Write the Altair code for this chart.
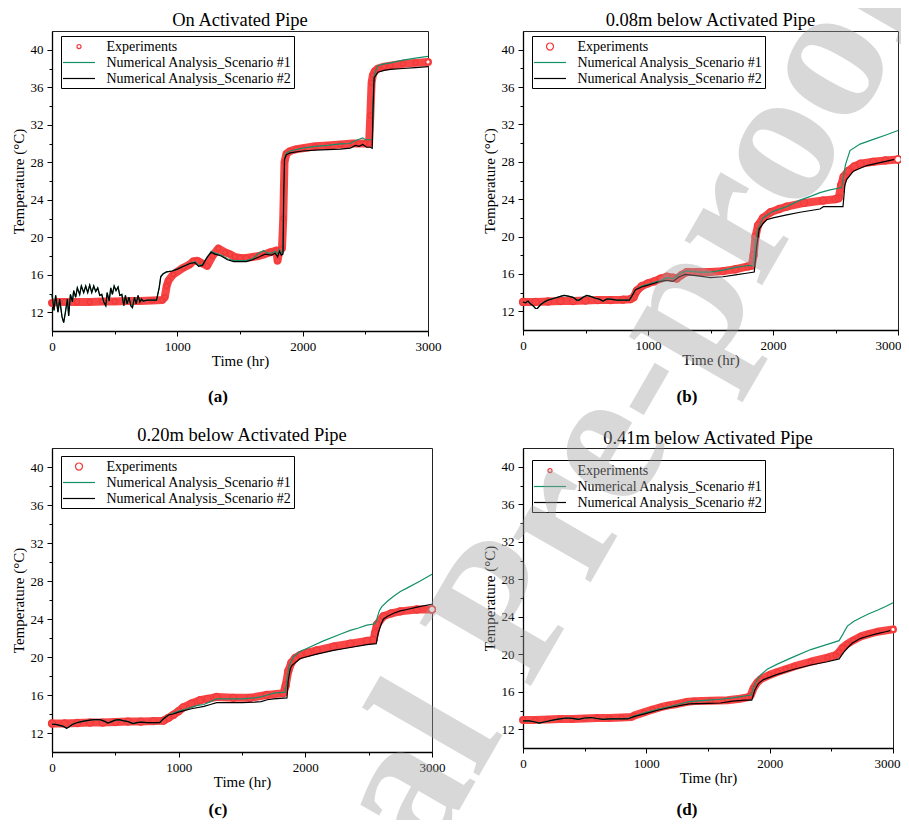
import altair as alt
import pandas as pd

FONT = "Liberation Serif"
SERIES = ["Experiments", "Numerical Analysis_Scenario #1", "Numerical Analysis_Scenario #2"]
COLORS = ["#f03a3a", "#12906a", "#000000"]
BAND_COLOR = "#f84646"
X_TICKS = [0, 500, 1000, 1500, 2000, 2500, 3000]
Y_TICKS = [12, 14, 16, 18, 20, 22, 24, 26, 28, 30, 32, 34, 36, 38, 40]
WATERMARK = "Journal Pre-proof"

# ---------------- panel (a): On Activated Pipe ----------------
A_EXP_T = [0, 50, 100, 200, 300, 400, 500, 600, 700, 800, 880, 900, 915, 930, 968, 1048, 1100, 1128, 1160, 1200,
           1238, 1280, 1327, 1380, 1420, 1460, 1500, 1550, 1600, 1650, 1700, 1740, 1770, 1790, 1800, 1810, 1825, 1835, 1845, 1855,
           1870, 1900, 1950, 2000, 2100, 2200, 2300, 2400, 2450, 2500, 2530, 2540, 2550, 2560, 2575, 2600, 2650, 2700, 2800, 2900, 3000]
A_EXP_V = [13.0, 13.1, 13.1, 13.1, 13.1, 13.15, 13.15, 13.2, 13.2, 13.25, 13.3, 13.6, 14.8, 15.4, 16.05, 16.75, 17.1, 17.45, 17.5, 17.2,
           16.95, 18.0, 18.8, 18.4, 18.2, 17.9, 17.8, 17.8, 17.9, 18.0, 18.2, 18.4, 18.5, 18.6, 17.5, 18.3, 18.7, 18.8, 22.0, 28.0,
           28.9, 29.2, 29.4, 29.5, 29.7, 29.8, 29.9, 30.0, 30.0, 30.0, 30.0, 33.0, 36.5, 37.3, 37.7, 38.0, 38.2, 38.3, 38.5, 38.6, 38.7]
A_S1_T = [0, 16, 29, 48, 61, 80, 93, 107, 123, 133, 147, 163, 173, 189, 202, 221, 234, 253, 269, 285,
          301, 317, 333, 349, 365, 381, 397, 413, 429, 440, 456, 469, 482, 496, 511, 527, 541, 557, 573, 586,
          599, 615, 629, 642, 658, 671, 687, 701, 714, 727, 760, 834, 855, 868, 887, 914, 960,
          1000, 1050, 1100, 1140, 1170, 1200, 1240, 1270, 1300, 1350, 1400, 1450, 1500, 1550, 1600, 1650, 1690, 1720,
          1750, 1780, 1800, 1815, 1830, 1843, 1850, 1856, 1870, 1900, 2000, 2100, 2200, 2300, 2380, 2420, 2460, 2480,
          2500, 2540, 2555, 2562, 2570, 2600, 2650, 2700, 2800, 2900, 3000]
A_S1_V = [13.9, 12.2, 13.8, 12.0, 13.4, 11.5, 10.9, 12.0, 13.4, 11.6, 13.9, 13.1, 14.3, 13.6, 14.6, 13.9, 14.8, 14.1, 14.8, 14.1,
          14.9, 14.1, 14.8, 14.2, 14.6, 13.8, 13.9, 13.1, 12.7, 14.1, 13.2, 14.6, 13.9, 14.8, 14.3, 14.7, 13.8, 13.9, 12.7, 13.8,
          12.9, 13.6, 12.7, 12.5, 13.6, 12.9, 13.8, 13.1, 13.4, 13.2, 13.3, 13.3, 14.6, 15.8, 16.1, 16.3, 16.4,
          16.6, 16.9, 17.2, 17.4, 17.0, 17.1, 17.9, 18.5, 18.3, 18.1, 17.7, 17.5, 17.5, 17.5, 17.7, 18.3, 18.6, 18.3,
          18.3, 18.5, 18.2, 18.7, 18.3, 18.4, 24.5, 28.5, 29.0, 29.2, 29.5, 29.7, 29.8, 29.95, 30.0, 30.3, 30.5, 30.6,
          30.4, 30.4, 30.4, 34.5, 37.3, 38.3, 38.5, 38.6, 38.9, 39.1, 39.3]
A_S2_T = [0, 16, 29, 48, 61, 80, 93, 107, 123, 133, 147, 163, 173, 189, 202, 221, 234, 253, 269, 285,
          301, 317, 333, 349, 365, 381, 397, 413, 429, 440, 456, 469, 482, 496, 511, 527, 541, 557, 573, 586,
          599, 615, 629, 642, 658, 671, 687, 701, 714, 727, 760, 834, 855, 868, 887, 914, 960, 1000, 1050, 1100,
          1140, 1170, 1200, 1240, 1270, 1300, 1350, 1400, 1450, 1500, 1550, 1600, 1650, 1700, 1750, 1780, 1800, 1815, 1830, 1843,
          1848, 1855, 1870, 1900, 2000, 2100, 2200, 2300, 2380, 2420, 2450, 2480, 2510, 2540, 2555, 2562, 2570, 2600, 2650, 2700,
          2800, 2900, 3000]
A_S2_V = [13.9, 12.2, 13.8, 12.0, 13.4, 11.5, 10.9, 12.0, 13.4, 11.6, 13.9, 13.1, 14.3, 13.6, 14.6, 13.9, 14.8, 14.1, 14.8, 14.1,
          14.9, 14.1, 14.8, 14.2, 14.6, 13.8, 13.9, 13.1, 12.7, 14.1, 13.2, 14.6, 13.9, 14.8, 14.3, 14.7, 13.8, 13.9, 12.7, 13.8,
          12.9, 13.6, 12.7, 12.5, 13.6, 12.9, 13.8, 13.1, 13.4, 13.2, 13.3, 13.3, 14.6, 15.8, 16.1, 16.3, 16.4, 16.6, 16.9, 17.2,
          17.3, 16.9, 17.0, 17.9, 18.4, 18.2, 18.0, 17.6, 17.4, 17.4, 17.4, 17.6, 17.9, 18.2, 18.1, 18.3, 17.9, 18.5, 18.1, 18.2,
          24.0, 28.3, 28.8, 29.0, 29.2, 29.3, 29.35, 29.4, 29.5, 29.8, 29.7, 29.9, 29.6, 29.6, 29.5, 34.0, 37.0, 37.6, 37.8, 37.9,
          38.0, 38.1, 38.2]

# ---------------- panel (b): 0.08m below ----------------
B_EXP_T = [0, 100, 200, 300, 400, 500, 600, 700, 800, 860, 885, 910, 950, 1000, 1050, 1100, 1150, 1200, 1230, 1270,
           1310, 1400, 1500, 1600, 1700, 1800, 1830, 1845, 1860, 1880, 1920, 1980, 2050, 2110, 2250, 2400, 2500, 2525, 2545, 2565,
           2600, 2650, 2700, 2800, 2900, 3000]
B_EXP_V = [13.0, 13.0, 13.05, 13.1, 13.1, 13.15, 13.2, 13.2, 13.25, 13.3, 13.5, 14.2, 14.7, 15.0, 15.2, 15.5, 15.7, 15.6, 15.5, 15.9,
           16.2, 16.2, 16.2, 16.3, 16.5, 16.8, 16.9, 18.0, 20.0, 21.2, 22.0, 22.6, 22.95, 23.2, 23.6, 23.85, 24.0, 24.1, 25.5, 26.4,
           27.0, 27.5, 27.8, 28.0, 28.15, 28.25]
B_S1_T = [0, 20, 40, 60, 80, 100, 115, 140, 170, 200, 250, 300, 330, 370, 400, 430, 450, 480, 510, 540, 580, 610, 640, 670, 700,
          750, 850, 870, 900, 950, 1000, 1050, 1100, 1150, 1200, 1250, 1300, 1350, 1400, 1500, 1600, 1700, 1800, 1845, 1860, 1880,
          1920, 2000, 2110, 2216, 2300, 2376, 2456, 2549, 2565, 2580, 2616, 2696, 2803, 2909, 3000]
B_S1_V = [13.0, 12.9, 13.1, 12.8, 12.6, 12.3, 12.3, 12.7, 13.0, 13.2, 13.4, 13.6, 13.7, 13.6, 13.5, 13.2, 13.2, 13.5, 13.7, 13.6, 13.4,
          13.3, 13.1, 13.3, 13.3, 13.2, 13.2, 13.6, 14.3, 14.7, 14.9, 15.1, 15.3, 15.6, 15.5, 16.0, 16.3, 16.3, 16.2, 16.2, 16.4,
          16.7, 16.9, 16.9, 19.5, 20.8, 22.0, 22.7, 23.2, 23.9, 24.3, 24.7, 25.0, 25.25, 26.5, 27.7, 29.2, 29.9, 30.4, 30.9, 31.35]
B_S2_T = [0, 20, 40, 60, 80, 100, 115, 140, 170, 200, 250, 300, 330, 370, 400, 430, 450, 480, 510, 540, 580, 610, 640, 670, 700,
          750, 850, 870, 900, 950, 1000, 1050, 1100, 1150, 1200, 1250, 1300, 1400, 1500, 1600, 1700, 1800, 1850, 1870, 1890,
          1920, 1950, 2000, 2100, 2216, 2376, 2403, 2560, 2575, 2589, 2643, 2749, 2883, 3000]
B_S2_V = [13.0, 12.9, 13.1, 12.8, 12.6, 12.3, 12.3, 12.7, 13.0, 13.2, 13.4, 13.6, 13.7, 13.6, 13.5, 13.2, 13.2, 13.5, 13.7, 13.6, 13.4,
          13.3, 13.1, 13.3, 13.3, 13.2, 13.2, 13.6, 14.3, 14.6, 14.8, 15.0, 15.2, 15.3, 15.2, 15.7, 15.95, 15.8, 15.6, 15.7, 15.9,
          16.1, 16.2, 19.0, 20.8, 21.4, 21.8, 22.0, 22.3, 22.6, 22.95, 23.2, 23.2, 25.5, 26.1, 27.0, 27.6, 28.0, 28.35]

# ---------------- panel (c): 0.20m below ----------------
C_EXP_T = [0, 100, 200, 300, 400, 500, 600, 700, 800, 880, 920, 957, 1000, 1036, 1100, 1168, 1230, 1300, 1431, 1563,
           1695, 1827, 1845, 1865, 1890, 1920, 1958, 2020, 2090, 2222, 2354, 2486, 2538, 2550, 2565, 2617, 2680, 2749, 2881, 3000]
C_EXP_V = [13.0, 13.0, 13.05, 13.1, 13.1, 13.15, 13.2, 13.2, 13.25, 13.3, 13.6, 13.9, 14.3, 14.7, 15.1, 15.45, 15.6, 15.8, 15.7, 15.7,
           16.0, 16.2, 17.0, 18.5, 19.4, 19.9, 20.2, 20.45, 20.7, 21.1, 21.4, 21.7, 21.8, 22.5, 23.4, 24.3, 24.6, 24.8, 25.0, 25.0]
C_S1_T = [0, 30, 60, 90, 115, 130, 160, 200, 250, 300, 330, 380, 420, 440, 470, 500, 530, 560, 600, 640, 670, 700, 750, 850, 880,
          920, 957, 1000, 1050, 1100, 1150, 1200, 1250, 1300, 1400, 1500, 1600, 1650, 1700, 1750, 1840, 1855, 1870, 1906, 1960,
          2011, 2143, 2275, 2354, 2420, 2486, 2552, 2565, 2585, 2604, 2650, 2697, 2750, 2802, 2907, 3000]
C_S1_V = [12.9, 12.9, 12.8, 12.7, 12.5, 12.6, 12.9, 13.1, 13.25, 13.35, 13.4, 13.4, 13.2, 13.05, 13.2, 13.35, 13.4, 13.3, 13.2, 13.0,
          13.1, 13.15, 13.1, 13.1, 13.5, 13.9, 14.1, 14.3, 14.5, 14.7, 14.9, 15.0, 15.3, 15.6, 15.6, 15.6, 15.7, 15.8, 16.0, 16.2,
          16.3, 17.5, 19.0, 20.0, 20.6, 20.9, 21.7, 22.4, 22.8, 23.05, 23.35, 23.5, 24.0, 24.9, 25.3, 25.9, 26.4, 26.9, 27.25, 28.0, 28.7]
C_S2_T = [0, 30, 60, 90, 115, 130, 160, 200, 250, 300, 330, 380, 420, 440, 470, 500, 530, 560, 600, 640, 670, 700, 750, 850, 880,
          920, 957, 1000, 1100, 1200, 1250, 1300, 1400, 1500, 1600, 1650, 1700, 1750, 1855, 1865, 1880, 1893, 1960, 2090, 2222,
          2354, 2486, 2560, 2575, 2600, 2617, 2650, 2697, 2750, 2802, 2900, 3000]
C_S2_V = [12.9, 12.9, 12.8, 12.7, 12.5, 12.6, 12.9, 13.1, 13.25, 13.35, 13.4, 13.4, 13.2, 13.05, 13.2, 13.35, 13.4, 13.3, 13.2, 13.0,
          13.1, 13.15, 13.1, 13.1, 13.5, 13.9, 14.0, 14.2, 14.55, 14.8, 15.0, 15.2, 15.2, 15.2, 15.25, 15.3, 15.5, 15.6, 15.7, 17.5,
          18.7, 19.1, 19.85, 20.3, 20.7, 21.0, 21.3, 21.4, 22.5, 23.5, 24.0, 24.3, 24.6, 24.85, 25.0, 25.3, 25.55]

# ---------------- panel (d): 0.41m below ----------------
D_EXP_T = [0, 100, 200, 300, 400, 500, 600, 700, 800, 880, 900, 981, 1050, 1116, 1180, 1252, 1320, 1387, 1522, 1657,
           1760, 1819, 1846, 1870, 1900, 1927, 2000, 2062, 2130, 2198, 2333, 2468, 2535, 2560, 2590, 2630, 2680, 2738, 2800, 2873, 3000]
D_EXP_V = [13.0, 13.0, 13.05, 13.1, 13.1, 13.15, 13.2, 13.2, 13.25, 13.3, 13.45, 13.8, 14.1, 14.35, 14.55, 14.7, 14.9, 15.0, 15.05, 15.1,
           15.25, 15.4, 15.6, 16.4, 17.0, 17.35, 17.8, 18.1, 18.4, 18.7, 19.2, 19.65, 19.9, 20.2, 20.7, 21.1, 21.5, 21.9, 22.15, 22.4, 22.65]
D_S1_T = [0, 50, 90, 130, 180, 250, 300, 350, 400, 450, 500, 550, 600, 650, 700, 850, 900, 1000, 1100, 1200, 1300, 1350, 1500,
          1600, 1700, 1800, 1850, 1870, 1900, 1927, 1980, 2062, 2198, 2333, 2468, 2563, 2600, 2630, 2680, 2738, 2800, 2873, 2940, 3000]
D_S1_V = [12.9, 12.9, 12.8, 12.65, 12.8, 13.0, 13.1, 13.2, 13.15, 13.05, 13.2, 13.25, 13.15, 13.05, 13.1, 13.15, 13.4, 13.8, 14.15,
          14.45, 14.8, 14.95, 15.1, 15.2, 15.35, 15.55, 15.65, 16.5, 17.3, 17.8, 18.4, 18.95, 19.75, 20.5, 21.05, 21.45, 22.3, 23.0,
          23.5, 23.9, 24.3, 24.7, 25.1, 25.5]
D_S2_T = [0, 50, 90, 130, 180, 250, 300, 350, 400, 450, 500, 550, 600, 650, 700, 850, 900, 1000, 1100, 1200, 1300, 1350, 1500,
          1600, 1700, 1800, 1855, 1880, 1910, 1950, 2062, 2198, 2333, 2468, 2563, 2600, 2640, 2671, 2738, 2800, 2873, 2940, 3000]
D_S2_V = [12.9, 12.9, 12.8, 12.65, 12.8, 13.0, 13.1, 13.2, 13.15, 13.05, 13.2, 13.25, 13.15, 13.05, 13.1, 13.1, 13.35, 13.7, 14.05,
          14.35, 14.6, 14.7, 14.75, 14.8, 15.0, 15.1, 15.1, 16.2, 16.9, 17.3, 17.85, 18.4, 18.85, 19.2, 19.5, 20.2, 20.8, 21.2, 21.7,
          21.95, 22.2, 22.4, 22.6]


def axis_x(last_shift):
    return alt.Axis(values=X_TICKS, labelExpr="datum.value % 1000 == 0 ? datum.value : ''", title="Time (hr)",
                    titleFont=FONT, titleFontSize=15, titleFontWeight="normal", titleColor="black", titlePadding=0,
                    labelFont=FONT, labelFontSize=13, labelColor="black", labelPadding=4, labelFlush=False,
                    labelOverlap=False, tickColor="black", tickWidth=1,
                    labelOffset={"condition": {"test": "datum.value == 3000", "value": last_shift}, "value": 0},
                    tickSize={"condition": {"test": "datum.value % 1000 == 0", "value": 5}, "value": 3},
                    domainColor="black", domainWidth=1.3, grid=False)


def axis_y():
    return alt.Axis(values=Y_TICKS, labelExpr="datum.value % 4 == 0 ? datum.value : ''", title="Temperature (°C)",
                    titleFont=FONT, titleFontSize=15, titleFontWeight="normal", titleColor="black", titlePadding=4,
                    labelFont=FONT, labelFontSize=13, labelColor="black", labelPadding=4, labelOverlap=False,
                    tickColor="black", tickWidth=1,
                    tickSize={"condition": {"test": "datum.value % 4 == 0", "value": 5}, "value": 3},
                    domainColor="black", domainWidth=1.3, grid=False)


def panel(title, tag, et, ev, s1t, s1v, s2t, s2v, w, h, r_units, pt_size, end_size, title_offset, leg_y,
          tag_x, tag_y, last_shift):
    df = pd.DataFrame({
        "t": et + s1t + s2t,
        "v": ev + s1v + s2v,
        "series": [SERIES[0]] * len(et) + [SERIES[1]] * len(s1t) + [SERIES[2]] * len(s2t),
    })
    r = r_units
    circle_path = f"M{r},0A{r},{r} 0 1,1 {-r},0A{r},{r} 0 1,1 {r},0Z"
    line_path = "M-2.1333,0L2.1333,0"
    x = alt.X("t:Q", scale=alt.Scale(domain=[0, 3000], nice=False, zero=False), axis=axis_x(last_shift))
    y = alt.Y("v:Q", scale=alt.Scale(domain=[10, 42], nice=False, zero=False), axis=axis_y())
    leg = alt.Legend(title=None, orient="none", legendX=9, legendY=leg_y, strokeColor="black",
                     padding=2, symbolSize=225, symbolStrokeWidth=1.2, symbolOffset=7.5, labelOffset=19,
                     labelFont=FONT, labelFontSize=14, labelColor="black", labelLimit=0, rowPadding=0)
    color = alt.Color("series:N", scale=alt.Scale(domain=SERIES, range=COLORS), legend=leg)
    shape = alt.Shape("series:N", scale=alt.Scale(domain=SERIES, range=[circle_path, line_path, line_path]), legend=leg)
    base = alt.Chart(df)
    exp = base.transform_filter(alt.datum.series == SERIES[0])
    band = exp.mark_line(color=BAND_COLOR, strokeWidth=8, strokeCap="round", strokeJoin="round").encode(x=x, y=y)
    pts = exp.mark_point(filled=False, strokeWidth=1.3, size=pt_size, opacity=1).encode(x=x, y=y, color=color, shape=shape)
    num = base.transform_filter(alt.datum.series != SERIES[0]).mark_line(strokeWidth=1.2).encode(x=x, y=y, color=color)
    end = exp.transform_filter(alt.datum.t == 3000).mark_point(
        shape="circle", filled=True, fill="white", stroke=COLORS[0], strokeWidth=1.3, size=end_size, opacity=1
    ).encode(x=x, y=y)
    tagc = alt.Chart(pd.DataFrame({"tag": [tag]})).mark_text(
        font=FONT, fontSize=17, fontWeight="bold", align="center", baseline="middle", color="black"
    ).encode(x=alt.value(tag_x), y=alt.value(tag_y), text="tag:N")
    return alt.layer(band, pts, num, end, tagc).properties(
        width=w, height=h,
        title=alt.TitleParams(title, font=FONT, fontSize=18.5, fontWeight="normal", color="black",
                              offset=title_offset, frame="group"),
    )


pa = panel("On Activated Pipe", "(a)", A_EXP_T, A_EXP_V, A_S1_T, A_S1_V, A_S2_T, A_S2_V,
           376, 300, 0.27, 343, 20, 2, 5, 166, 366, 0)
pb = panel("0.08m below Activated Pipe", "(b)", B_EXP_T, B_EXP_V, B_S1_T, B_S1_V, B_S2_T, B_S2_V,
           375, 299, 0.47, 222, 43, 2, 5, 164, 366, -10)
pc = panel("0.20m below Activated Pipe", "(c)", C_EXP_T, C_EXP_V, C_S1_T, C_S1_V, C_S2_T, C_S2_V,
           380, 304, 0.47, 222, 43, 4, 8, 166, 362, 0)
pd_ = panel("0.41m below Activated Pipe", "(d)", D_EXP_T, D_EXP_V, D_S1_T, D_S1_V, D_S2_T, D_S2_V,
            370, 300, 0.27, 343, 20, 1, 12, 164, 362, -6)

# watermark drawn last, over all four panels
wm = alt.Chart(pd.DataFrame({"w": [WATERMARK]})).mark_text(
    font=FONT, fontSize=195, fontWeight="bold", angle=300, align="center", baseline="alphabetic",
    color="#a0a0a0", opacity=0.4
).encode(x=alt.value(503), y=alt.value(-221), text="w:N").properties(width=1, height=1)

ind = dict(color="independent", shape="independent")
chart = (
    alt.concat(pa, pb, pc, pd_, wm, columns=2, spacing={"row": 113, "column": 91}, bounds="flush", align="all")
    .resolve_scale(**ind).resolve_legend(**ind)
    .properties(autosize=alt.AutoSizeParams(type="none"),
                padding={"left": 44, "top": 23, "right": 849, "bottom": 789}, background="white")
    .configure(font=FONT)
    .configure_view(stroke="#222222", strokeWidth=1)
)

chart.save("out.html", embed_options={"renderer": "svg", "actions": False})
